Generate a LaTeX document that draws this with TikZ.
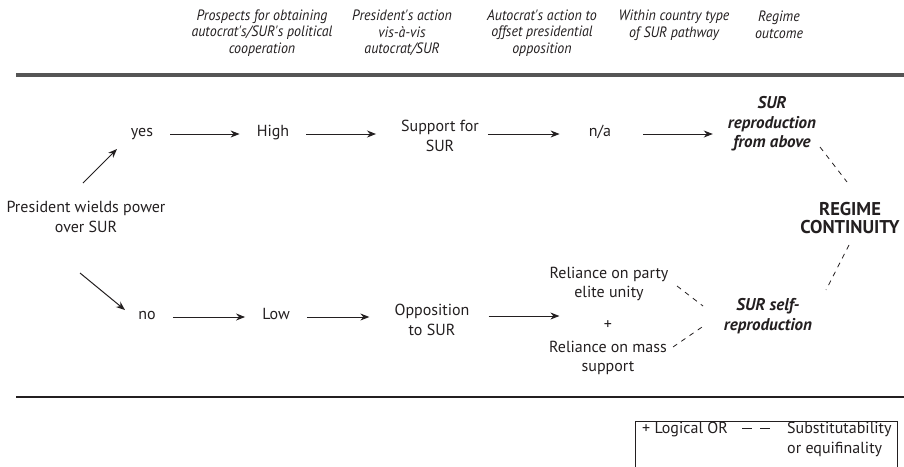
\documentclass[tikz,border=0pt]{standalone}
\usepackage{fontspec}
\setmainfont{PT Sans}
\newfontfamily\headfont[FakeStretch=0.93]{PT Sans}
\usetikzlibrary{calc,arrows.meta}
\definecolor{ink}{HTML}{231F20}
\definecolor{rulegray}{HTML}{555555}
\tikzset{
  txt/.style={text=ink, font=\fontsize{16}{19.5}\selectfont, align=center, inner sep=1pt},
  one/.style={txt, text height=0.72em, text depth=0.2em},
  head/.style={text=ink, font=\headfont\itshape\fontsize{15}{16.5}\selectfont, align=center, inner sep=0pt},
  outc/.style={txt, font=\bfseries\itshape\fontsize{17}{19.5}\selectfont},
  big/.style={txt, font=\bfseries\fontsize{18.5}{18.5}\selectfont},
  arr/.style={draw=ink, line width=1pt, -{Stealth[length=9pt,width=7pt]}},
  dsh/.style={draw=ink, line width=0.8pt, dash pattern=on 5pt off 5pt},
}
\begin{document}
\begin{tikzpicture}[x=1pt, y=-1pt]
  \useasboundingbox (0,0) rectangle (904,466);

  % column heads
  \node[head] (h1) at (262,33) {Prospects for obtaining\\autocrat's/SUR's political\\cooperation};
  \node[head] (h2) at (402,33) {President's action\\vis-\`a-vis\\autocrat/SUR};
  \node[head] (h3) at (542,33) {Autocrat's action to\\offset presidential\\opposition};
  \node[head] (h4) at (674,25) {Within country type\\of SUR pathway};
  \node[head] (h5) at (779,25) {Regime\\outcome};
  \draw[rulegray, line width=4pt] (16,75) -- (904,75);

  % nodes
  \node[txt] (pres) at (86,217) {President wields power\\over SUR};
  \node[one] (yes) at (142,134) {yes};
  \node[one] (high) at (273,134) {High};
  \node[txt] (supp) at (440,136) {Support for\\SUR};
  \node[one] (na) at (600,134) {n/a};
  \node[outc] (above) at (772,124) {SUR\\reproduction\\from above};
  \node[big] (cont) at (850,218) {REGIME\\CONTINUITY};
  \node[one] (no) at (147,317) {no};
  \node[one] (low) at (276,317) {Low};
  \node[txt] (opp) at (432,320) {Opposition\\to SUR};
  \node[txt] (party) at (609,284) {Reliance on party\\elite unity};
  \node[txt] (or) at (608,325) {+};
  \node[txt] (mass) at (608,358) {Reliance on mass\\support};
  \node[outc] (self) at (768,316) {SUR self-\\reproduction};

  % arrows
  \draw[arr] ($(pres)+(-3,-34)$) -- ($(yes)+(-25,15)$);
  \draw[arr] ($(pres)+(-6,56)$) -- ($(no)+(-22,-7)$);
  \draw[arr] ([xshift=16pt]yes.east) -- ([xshift=-16pt]yes.east -| high.west);
  \draw[arr] ([xshift=16pt]high.east) -- ([xshift=-24pt]high.east -| supp.west);
  \draw[arr] ([xshift=8pt]supp.east |- na.west) -- ([xshift=-28pt]na.west);
  \draw[arr] ([xshift=31pt]na.east) -- ([xshift=-14pt]na.east -| above.west);
  \draw[arr] ([xshift=16pt]no.east) -- ([xshift=-16pt]no.east -| low.west);
  \draw[arr] ([xshift=16pt]low.east) -- ([xshift=-24pt]low.east -| opp.west);
  \coordinate (oe) at ($(opp.east)+(18,-4)$);
  \draw[arr] (oe) -- ([xshift=11pt]oe -| party.west);

  % substitutability
  \draw[dsh] ($(above)+(48,23)$) -- ($(cont)+(-3,-36)$);
  \draw[dsh] ($(cont)+(-1,27)$) -- ($(self)+(58,-26)$);
  \draw[dsh] ($(party)+(68,2)$) -- ($(self)+(-65,-10)$);
  \draw[dsh] ($(mass)+(65,-11)$) -- ($(self)+(-63,9)$);

  \draw[ink, line width=1.1pt] (16,397) -- (904,397);

  % legend
  \draw[ink, line width=0.8pt] (635,470) -- (635,421) -- (897,421) -- (897,470);
  \node[one, anchor=west] (lor) at (641,431) {+ Logical OR};
  \draw[ink, line width=1pt] (742,428.5) -- (752,428.5) (760,428.5) -- (770,428.5);
  \node[txt, anchor=north west, align=left] (subst) at (786,421) {Substitutability\\or equifinality};
\end{tikzpicture}
\end{document}
